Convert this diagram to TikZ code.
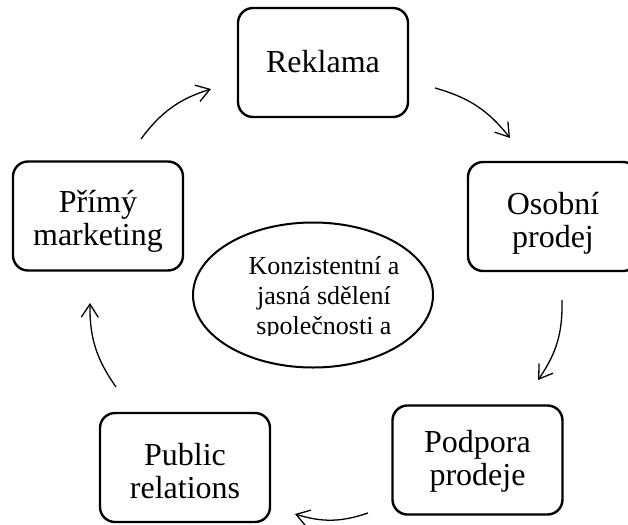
\documentclass[tikz,border=0pt]{standalone}
\usepackage{fontspec}
\setmainfont{Liberation Serif}
\usetikzlibrary{shapes.geometric,arrows.meta}
\begin{document}
\begin{tikzpicture}[x=1pt,y=-1pt,
  box/.style={draw, line width=2.4pt, rounded corners=15pt,
    inner sep=0pt, minimum width=170pt, minimum height=109pt},
  lbl/.style={align=center, inner sep=0pt, font=\fontsize{32}{33}\selectfont},
  cyc/.style={line width=1.3pt, -{Straight Barb[length=13pt,width=17pt,line width=1.3pt]}, bend left=18}]
\clip (0,0) rectangle (628,524);
\fill[white] (0,0) rectangle (628,524);
\node[box] (rek) at (323,62.5) {};
\node[box] (oso) at (553,216.5) {};
\node[box] (pod) at (477.5,460) {};
\node[box] (pub) at (185,467.5) {};
\node[box] (pri) at (98,216) {};
\node[lbl] (rekt) at ([yshift=1pt]rek.center) {Reklama};
\node[lbl] (osot) at ([yshift=-7pt]oso.center) {Osobní\\prodej};
\node[lbl] (podt) at ([yshift=-1pt]pod.center) {Podpora\\prodeje};
\node[lbl] (pubt) at ([yshift=-4pt]pub.center) {Public\\relations};
\node[lbl] (prit) at ([yshift=-5pt]pri.center) {Přímý\\marketing};
\node[draw, ellipse, line width=2pt, minimum width=240pt, minimum height=145pt] (ell) at (313,295) {};
\begin{scope}
\clip (193,222) rectangle (433,335);
\node[align=center, font=\fontsize{26}{30}\selectfont, inner sep=0pt] (etx) at (324,298) {Konzistentní a\\jasná sdělení\\společnosti a};
\end{scope}
\coordinate (a1) at (435,88);  \coordinate (b1) at (510,138);
\coordinate (a2) at (562,300); \coordinate (b2) at (538,380);
\coordinate (a3) at (368,513); \coordinate (b3) at (295,514);
\coordinate (a4) at (116,387); \coordinate (b4) at (90,303);
\coordinate (a5) at (141,139); \coordinate (b5) at (211,89);
\draw[cyc] (a1) to (b1);
\draw[cyc] (a2) to (b2);
\draw[cyc] (a3) to (b3);
\draw[cyc] (a4) to (b4);
\draw[cyc] (a5) to (b5);
\end{tikzpicture}
\end{document}
